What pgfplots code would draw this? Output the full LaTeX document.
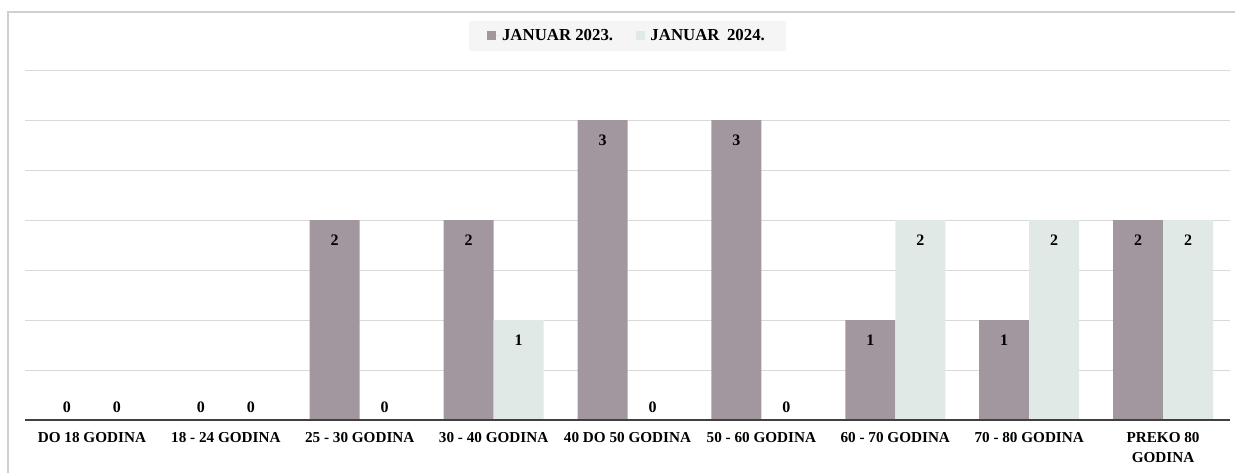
\documentclass[border=0pt]{standalone}
\usepackage{pgfplots}
\pgfplotsset{compat=1.18}
\usepackage{fontspec}
\setmainfont{Liberation Serif}
\definecolor{barA}{HTML}{A2969F}
\definecolor{barB}{HTML}{E0E9E5}
\definecolor{gridc}{HTML}{D9D9D9}
\definecolor{axisc}{HTML}{404040}
\definecolor{framec}{HTML}{D0D0D0}
\definecolor{legbg}{HTML}{F5F5F5}
\begin{document}
\begin{tikzpicture}
\useasboundingbox (-18.75pt,-39pt) rectangle (907.5pt,315pt);
\draw[framec, line width=1.2pt] (-12.75pt,-50pt) -- (-12.75pt,306pt) -- (920pt,306pt);
\begin{axis}[
  at={(0,0)}, anchor=south west,
  scale only axis, width=903.75pt, height=262.5pt,
  ybar=0pt, bar width=37.5pt,
  xmin=-0.5, xmax=8.5, ymin=0, ymax=3.5,
  xtick={0,...,8},
  xticklabels={DO 18 GODINA,18 - 24 GODINA,25 - 30 GODINA,30 - 40 GODINA,40 DO 50 GODINA,50 - 60 GODINA,60 - 70 GODINA,70 - 80 GODINA,{PREKO 80\\GODINA}},
  xticklabel style={font=\fontsize{11.4}{15}\selectfont\bfseries, align=center, inner sep=0pt, anchor=north, yshift=-9pt},
  ytick={0,0.5,...,3.5}, yticklabels={},
  major tick length=0pt,
  ymajorgrids, grid style={gridc, line width=0.75pt},
  axis line style={draw=none},
  visualization depends on={rawy \as \rawy},
  nodes near coords={\pgfmathprintnumber[assume math mode=true]{\pgfplotspointmeta}},
  every node near coord/.append style={font=\fontsize{12}{14}\selectfont\bfseries, text=black, anchor=center, yshift={ifthenelse(\rawy>0,-15,9.75)*1pt}},
  legend style={at={(0.5,1)}, anchor=center, yshift=25.5pt, draw=none, fill=legbg,
    font=\fontsize{12.6}{15}\selectfont\bfseries, legend columns=2,
    /tikz/every even column/.append style={column sep=15pt},
    inner xsep=14pt, inner ysep=4.5pt},
  legend image code/.code={\fill[#1, draw=none] (0pt,-3.375pt) rectangle (6.75pt,3.375pt); \path (0pt,0pt) -- (9pt,0pt);},
]
\addplot[fill=barA, draw=none] coordinates {(0,0) (1,0) (2,2) (3,2) (4,3) (5,3) (6,1) (7,1) (8,2)};
\addplot[fill=barB, draw=none] coordinates {(0,0) (1,0) (2,0) (3,1) (4,0) (5,0) (6,2) (7,2) (8,2)};
\legend{JANUAR 2023.,JANUAR\hspace{0.45em}2024.}
\draw[axisc, line width=1.5pt] (axis cs:-0.5,0) -- (axis cs:8.5,0);
\end{axis}
\end{tikzpicture}
\end{document}
